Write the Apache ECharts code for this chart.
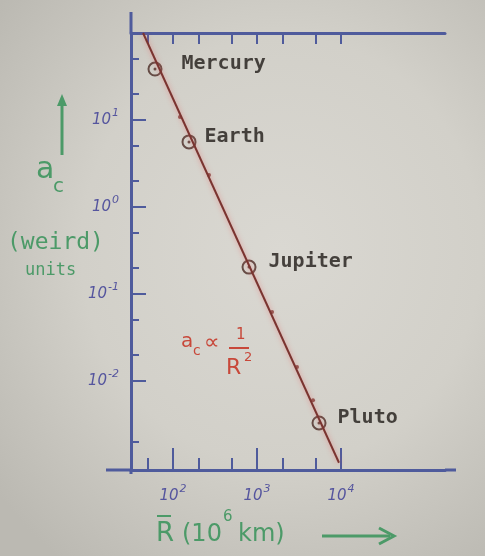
<!DOCTYPE html>
<html><head><meta charset="utf-8">
<script src="https://cdn.jsdelivr.net/npm/echarts@6/dist/echarts.min.js"></script>
<style>
html,body{margin:0;padding:0;width:485px;height:556px;overflow:hidden;
background: radial-gradient(ellipse 75% 70% at 58% 45%, #dad8d2 0%, #d2d0c9 55%, #bbb9b2 100%);}
#c{width:485px;height:556px;}
</style></head><body><div id="c"></div>
<script>
// ---- data ----
const planetNames = ['Mercury', 'Earth', 'Jupiter', 'Pluto'];
const planetR = [61, 155, 803, 5470];          // 10^6 km
const planetAc = [38.5, 5.6, 0.204, 0.0033];   // weird units
const otherR = [121, 268, 1510, 2990, 4640];   // unlabeled dots on the line
const otherAc = [10.8, 2.33, 0.062, 0.0145, 0.006];
const fitR = [44, 9460];
const fitAc = [100, 0.00115];
const xMajorTicks = [100, 1000, 10000];
const xMinorTicks = [50, 200, 500, 2000, 5000];
const xTopTicks = [50, 100, 200, 500, 1000, 2000, 5000, 10000];
const yMajorTicks = [0.01, 0.1, 1, 10];
const yMinorTicks = [0.002, 0.02, 0.05, 0.2, 0.5, 2, 5, 20, 50];
const xTickExp = ['2', '3', '4'];
const yTickExp = ['-2', '-1', '0', '1'];
const xMin = 31.6, xMax = 173000, yMin = 0.00095, yMax = 100;

// ---- styling ----
const axisBlue = '#4f5b9c';
const labelBlue = '#55559e';
const green = '#4c9a68';
const red = '#c8483a';
const ink = '#1f1a17';
const lineCol = '#7a3430';
const labelDist = {Mercury: 19, Earth: 8, Jupiter: 12, Pluto: 11};

const chart = echarts.init(document.getElementById('c'), null, {renderer: 'canvas'});

function expLabel(ticks, exps) {
  return function (v) {
    let i = -1, best = 1e9;
    ticks.forEach((t, k) => { const d = Math.abs(Math.log10(t) - Math.log10(v)); if (d < best) { best = d; i = k; } });
    return '{b|10}{s|' + exps[i] + '}';
  };
}
const tickRich = {
  b: {fontSize: 15, fontStyle: 'italic', color: labelBlue, fontFamily: 'DejaVu Sans'},
  s: {fontSize: 11, fontStyle: 'italic', color: labelBlue, fontFamily: 'DejaVu Sans', padding: [0, 0, 13, 1]}
};

const baseX = {type: 'log', logBase: 10, min: xMin, max: xMax, splitLine: {show: false}};
const baseY = {type: 'log', logBase: 10, min: yMin, max: yMax, splitLine: {show: false}};

const option = {
  animation: false,
  backgroundColor: 'transparent',
  grid: {left: 131, right: 40, top: 33, bottom: 86, containLabel: false},
  xAxis: [
    Object.assign({}, baseX, {
      position: 'bottom',
      axisLine: {show: true, lineStyle: {color: axisBlue, width: 3}},
      axisTick: {show: true, inside: true, length: 22, customValues: xMajorTicks, lineStyle: {color: axisBlue, width: 2}},
      axisLabel: {show: true, customValues: xMajorTicks, margin: 14, formatter: expLabel(xMajorTicks, xTickExp), rich: tickRich}
    }),
    Object.assign({}, baseX, {
      position: 'bottom',
      axisLine: {show: false},
      axisTick: {show: true, inside: true, length: 12, customValues: xMinorTicks, lineStyle: {color: axisBlue, width: 2}},
      axisLabel: {show: false}
    }),
    Object.assign({}, baseX, {
      position: 'top',
      axisLine: {show: true, lineStyle: {color: axisBlue, width: 3}},
      axisTick: {show: true, inside: true, length: 11, customValues: xTopTicks, lineStyle: {color: axisBlue, width: 2}},
      axisLabel: {show: false}
    })
  ],
  yAxis: [
    Object.assign({}, baseY, {
      position: 'left',
      axisLine: {show: true, lineStyle: {color: axisBlue, width: 3}},
      axisTick: {show: true, inside: true, length: 15, customValues: yMajorTicks, lineStyle: {color: axisBlue, width: 2}},
      axisLabel: {show: true, customValues: yMajorTicks, margin: 12, formatter: expLabel(yMajorTicks, yTickExp), rich: tickRich}
    }),
    Object.assign({}, baseY, {
      position: 'left',
      axisLine: {show: false},
      axisTick: {show: true, inside: true, length: 8, customValues: yMinorTicks, lineStyle: {color: axisBlue, width: 2}},
      axisLabel: {show: false}
    })
  ],
  series: [
    {
      type: 'line', xAxisIndex: 0, yAxisIndex: 0,
      data: fitR.map((r, i) => [r, fitAc[i]]),
      showSymbol: false, silent: true,
      lineStyle: {color: lineCol, width: 2, shadowBlur: 5, shadowColor: 'rgba(235,90,90,0.55)'}
    },
    {
      type: 'scatter', xAxisIndex: 0, yAxisIndex: 0,
      data: otherR.map((r, i) => [r, otherAc[i]]),
      symbol: 'circle', symbolSize: 4,
      itemStyle: {color: lineCol}
    },
    {
      type: 'scatter', xAxisIndex: 0, yAxisIndex: 0,
      data: planetR.map((r, i) => ({name: planetNames[i], value: [r, planetAc[i]],
        label: {distance: labelDist[planetNames[i]]}})),
      symbol: 'circle', symbolSize: 13,
      itemStyle: {color: 'rgba(0,0,0,0)', borderColor: '#4a2a24', borderWidth: 2},
      label: {show: true, position: 'right', offset: [0, -5], formatter: '{b}',
        fontFamily: 'DejaVu Sans Mono', fontSize: 20, fontWeight: 'bold', color: ink}
    },
    {
      type: 'scatter', xAxisIndex: 0, yAxisIndex: 0,
      data: planetR.map((r, i) => [r, planetAc[i]]),
      symbol: 'circle', symbolSize: 3,
      itemStyle: {color: '#4a2a24'}
    }
  ],
  graphic: [
    // axis line extensions
    {type: 'line', shape: {x1: 131, y1: 12, x2: 131, y2: 33}, style: {stroke: axisBlue, lineWidth: 3}},
    {type: 'line', shape: {x1: 131, y1: 470, x2: 131, y2: 474}, style: {stroke: axisBlue, lineWidth: 3}},
    {type: 'line', shape: {x1: 106, y1: 470, x2: 131, y2: 470}, style: {stroke: axisBlue, lineWidth: 3}},
    {type: 'line', shape: {x1: 445, y1: 470, x2: 456, y2: 470}, style: {stroke: axisBlue, lineWidth: 3}},
    // y axis title
    {type: 'line', shape: {x1: 62, y1: 155, x2: 62, y2: 104}, style: {stroke: green, lineWidth: 3}},
    {type: 'polygon', shape: {points: [[57, 106], [67, 106], [62, 94]]}, style: {fill: green}},
    {type: 'text', style: {x: 36, y: 170, text: 'a', font: '30px "DejaVu Sans"', fill: green, textVerticalAlign: 'middle'}},
    {type: 'text', style: {x: 53, y: 187, text: 'c', font: '20px "DejaVu Sans"', fill: green, textVerticalAlign: 'middle'}},
    {type: 'text', style: {x: 7, y: 243, text: '(weird)', font: '23px "DejaVu Sans Mono"', fill: green, textVerticalAlign: 'middle'}},
    {type: 'text', style: {x: 25, y: 271, text: 'units', font: '17px "DejaVu Sans Mono"', fill: green, textVerticalAlign: 'middle'}},
    // x axis title
    {type: 'text', style: {x: 156, y: 534, text: 'R', font: '26px "DejaVu Sans"', fill: green, textVerticalAlign: 'middle'}},
    {type: 'line', shape: {x1: 157, y1: 516, x2: 171, y2: 516}, style: {stroke: green, lineWidth: 2}},
    {type: 'text', style: {x: 182, y: 535, text: '(10', font: '24px "DejaVu Sans"', fill: green, textVerticalAlign: 'middle'}},
    {type: 'text', style: {x: 223, y: 517, text: '6', font: '15px "DejaVu Sans"', fill: green, textVerticalAlign: 'middle'}},
    {type: 'text', style: {x: 238, y: 535, text: 'km)', font: '24px "DejaVu Sans"', fill: green, textVerticalAlign: 'middle'}},
    {type: 'line', shape: {x1: 322, y1: 536, x2: 390, y2: 536}, style: {stroke: green, lineWidth: 3}},
    {type: 'polyline', shape: {points: [[379, 528], [394, 536], [379, 544]]}, style: {stroke: green, lineWidth: 3, fill: null}},
    // formula
    {type: 'text', style: {x: 181, y: 342, text: 'a', font: '20px "DejaVu Sans"', fill: red, textVerticalAlign: 'middle'}},
    {type: 'text', style: {x: 193, y: 351, text: 'c', font: '14px "DejaVu Sans"', fill: red, textVerticalAlign: 'middle'}},
    {type: 'text', style: {x: 204, y: 343, text: '\u221D', font: '22px "DejaVu Sans"', fill: red, textVerticalAlign: 'middle'}},
    {type: 'text', style: {x: 236, y: 335, text: '1', font: '15px "DejaVu Sans"', fill: red, textVerticalAlign: 'middle'}},
    {type: 'line', shape: {x1: 229, y1: 348, x2: 249, y2: 348}, style: {stroke: red, lineWidth: 2}},
    {type: 'text', style: {x: 226, y: 368, text: 'R', font: '22px "DejaVu Sans"', fill: red, textVerticalAlign: 'middle'}},
    {type: 'text', style: {x: 244, y: 358, text: '2', font: '13px "DejaVu Sans"', fill: red, textVerticalAlign: 'middle'}}
  ]
};
chart.setOption(option);
</script>
</body></html>
